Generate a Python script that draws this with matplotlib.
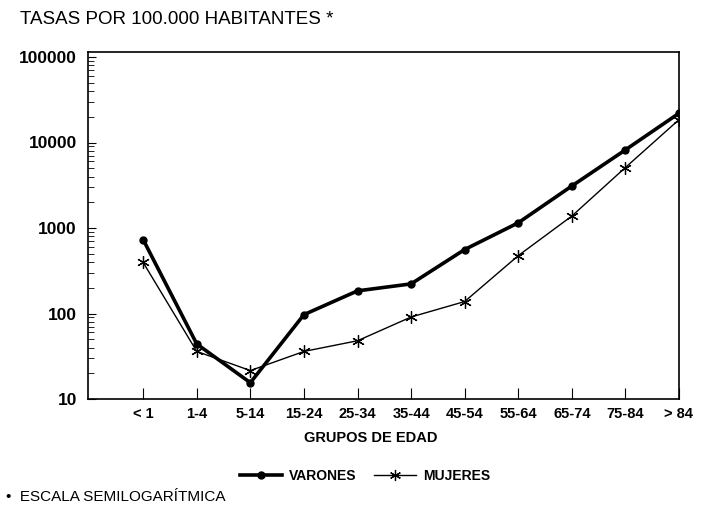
import matplotlib
matplotlib.use("Agg")
import matplotlib.pyplot as plt
import numpy as np
from matplotlib.ticker import LogLocator, NullFormatter, FixedLocator
from matplotlib.lines import Line2D

plt.rcParams['font.family'] = ['Liberation Sans', 'DejaVu Sans']

categorias = ["< 1", "1-4", "5-14", "15-24", "25-34", "35-44", "45-54",
              "55-64", "65-74", "75-84", "> 84"]
varones = [730, 44, 15.5, 97, 184, 222, 560, 1150, 3100, 8200, 22000]
mujeres = [395, 36, 21.5, 36, 48, 91, 138, 475, 1380, 5100, 18500]
yticks = [10, 100, 1000, 10000, 100000]
ytick_labels = ["10", "100", "1000", "10000", "100000"]

fig = plt.figure(figsize=(7.06, 5.09), dpi=100)
ax = fig.add_axes([88/706, 1-399/509, (679-88)/706, (399-52)/509])

x = np.arange(len(categorias))
ax.plot(x, varones, color='black', lw=2.6, marker='o', ms=5, zorder=3)
ax.plot(x, mujeres, color='black', lw=1.0, marker=(6, 2, 0), ms=9, mew=0.9, zorder=3)

ax.set_yscale('log')
ax.set_ylim(10, 10**(5 + 5/85.5))
ax.set_xlim(-1.03, 10)

ax.yaxis.set_major_locator(FixedLocator(yticks))
ax.set_yticks(yticks)
ax.set_yticklabels(ytick_labels, fontsize=12.5, fontweight='bold')
ax.yaxis.set_minor_locator(LogLocator(base=10, subs=np.arange(2, 10)))
ax.yaxis.set_minor_formatter(NullFormatter())
ax.tick_params(axis='y', which='major', direction='in', length=6, width=0.8, pad=8)
ax.tick_params(axis='y', which='minor', direction='in', length=4, width=0.6)

ax.set_xticks(x)
ax.set_xticklabels(categorias, fontsize=10.5, fontweight='bold')
ax.tick_params(axis='x', which='major', direction='in', length=8, width=0.8, pad=6)

for s in ax.spines.values():
    s.set_linewidth(1.2)

ax.set_xlabel("GRUPOS DE EDAD", fontsize=10.5, fontweight='bold')
ax.xaxis.set_label_coords((371-88)/(679-88), -(431-399)/347)

fig.text(20/706, 1-20/509, "TASAS POR 100.000 HABITANTES *", fontsize=13.5,
         ha='left', va='center')
fig.text(6/706, 1-497/509, "•  ESCALA SEMILOGARÍTMICA", fontsize=11,
         ha='left', va='center')

h1 = Line2D([], [], color='black', lw=2.6, marker='o', ms=5)
h2 = Line2D([], [], color='black', lw=1.0, marker=(6, 2, 0), ms=8, mew=0.9)
leg = fig.legend([h1, h2], ["VARONES", "MUJERES"], loc='center',
                 bbox_to_anchor=(365/706, 1-476/509), ncol=2, frameon=False,
                 handlelength=3.0, columnspacing=1.3, handletextpad=0.5,
                 prop={'weight': 'bold', 'size': 10})

fig.savefig("out.png", dpi=100)
